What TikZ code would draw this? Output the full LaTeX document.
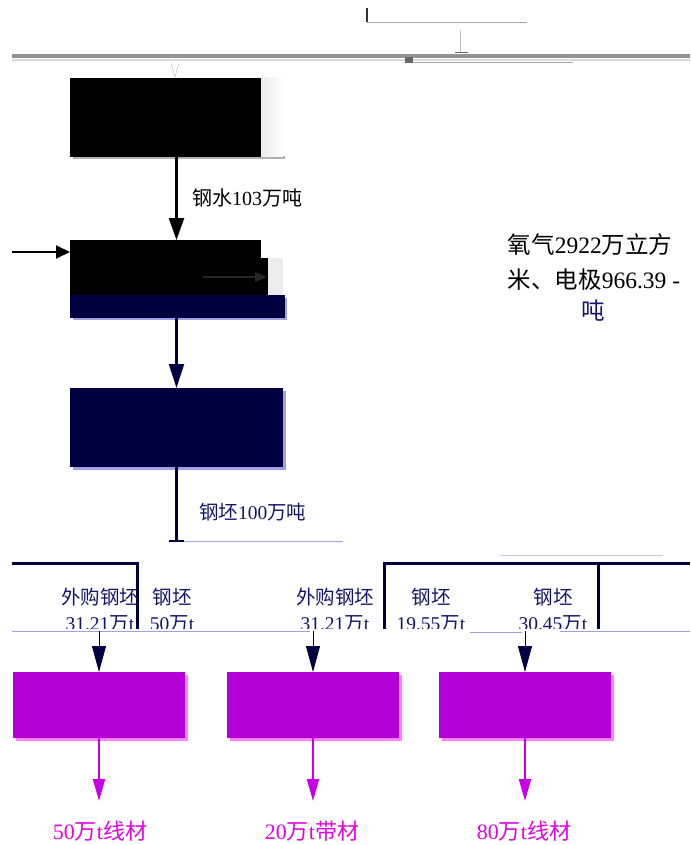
\documentclass[tikz,border=0pt]{standalone}
\usepackage{fontspec}
\setmainfont{Liberation Serif}
\newfontfamily\cjk{Noto Sans CJK SC}
\newcommand\zh[1]{{\cjk #1}}
\usetikzlibrary{arrows.meta}
\definecolor{navy}{RGB}{0,0,64}
\definecolor{lav}{RGB}{160,160,230}
\definecolor{purp}{RGB}{180,0,216}
\definecolor{pinksh}{RGB}{255,128,255}
\definecolor{purparr}{RGB}{200,0,230}
\definecolor{pinktxt}{RGB}{230,0,230}
\definecolor{navytxt}{RGB}{20,20,110}
\tikzset{
  boxk/.style={draw=none,fill=black,inner sep=0pt,outer sep=0pt,anchor=north west},
  boxn/.style={draw=none,fill=navy,inner sep=0pt,outer sep=0pt,anchor=north west},
  boxp/.style={draw=none,fill=purp,inner sep=0pt,outer sep=0pt,anchor=north west,minimum width=172pt,minimum height=66pt},
  lbl/.style={inner sep=0pt,font=\fontsize{20}{22}\selectfont},
  mlbl/.style={inner sep=0pt,font=\fontsize{19.5}{21}\selectfont,text=navytxt},
  rlbl/.style={inner sep=0pt,font=\fontsize{23.5}{26}\selectfont},
  blbl/.style={inner sep=0pt,font=\fontsize{22}{24}\selectfont,text=pinktxt},
  karr/.style={black,line width=2.5pt,-{Triangle[width=15pt,length=22pt]}},
  narr/.style={navy,line width=2.2pt,-{Triangle[width=15pt,length=24pt]}},
  sarr/.style={navy,line width=0.8pt,-{Triangle[width=14pt,length=26pt]}},
  parr/.style={purparr,line width=2pt,-{Triangle[width=12pt,length=22pt]}},
  nline/.style={navy,line width=3pt},
}
\begin{document}
\begin{tikzpicture}[x=1pt,y=-1pt]
\useasboundingbox (0,0) rectangle (690,845);
\clip (0,0) rectangle (690,845);
% top decorations
\draw[gray!40!black,line width=2pt] (367,8) -- (367,22);
\draw[gray!70,line width=0.6pt] (367,22) -- (527,22);
\draw[gray!50,line width=0.6pt] (460,30) -- (460,52);
\draw[gray!85,line width=3.5pt] (12,56) -- (690,56);
\draw[gray!30,line width=1.2pt] (12,60) -- (690,60);
\draw[gray!80!black,line width=1pt] (455,53) -- (468,53);
\draw[gray!70,line width=0.6pt] (413,62) -- (573,62);
\fill[gray!80!black] (405,57) rectangle (413,63);
\draw[gray!50,line width=0.5pt] (171,63) -- (175,77) -- (179,63);
% box 1
\fill[gray!60] (73,156) rectangle (285,159);
\node[boxk,minimum width=213pt,minimum height=79pt] (b1) at (70,78) {};
\shade[left color=gray!15,right color=white] (261,78) rectangle (283,157);
% box 2
\node[boxk,minimum width=213pt,minimum height=55pt] (b2) at (70,240) {};
\fill[white] (261,240) rectangle (283,258);
\fill[gray!15] (268,258) rectangle (283,295);
\fill[lav] (73,298) rectangle (287,320);
\node[boxn,minimum width=213pt,minimum height=23pt] (b2b) at (70,295) {};
\fill[navy] (283,295) rectangle (285,318);
\coordinate (gin) at (203,277);
\coordinate (gout) at (267,277);
\draw[gray!30!black,line width=1.5pt,-{Triangle[width=10pt,length=12pt]}] (gin) -- (gout);
\draw[karr] (b1.south) -- (b2.north);
\node[lbl,anchor=west] (l1) at (192,198) {\zh{钢水}103\zh{万吨}};
\coordinate (lin) at (12,252);
\draw[black,line width=2pt,-{Triangle[width=13pt,length=14pt]}] (lin) -- (lin -| b2.west);
% box 3
\fill[lav] (73,391) rectangle (286,470);
\node[boxn,minimum width=213pt,minimum height=79pt] (b3) at (70,388) {};
\draw[narr] (b2b.south) -- (b3.north);
\coordinate (t1) at (b3.south |- 0,541);
\draw[navy,line width=2.2pt] (b3.south) -- (t1);
\draw[navy,line width=1.5pt] (169,541) -- (184,541);
\draw[lav,line width=0.8pt] (184,541) -- (343,541);
\node[mlbl,anchor=west] (l2) at (199,512) {\zh{钢坯}100\zh{万吨}};
% right text
\node[rlbl] (r1) at (590,245) {\zh{氧气}2922\zh{万立方}};
\node[rlbl] (r2) at (594,280) {\zh{米、电极}966.39 -};
\node[rlbl,text=navytxt] (r3) at (593,311) {\zh{吨}};
% middle frame lines
\draw[lav!60,line width=0.8pt] (500,555) -- (663,555);
\draw[nline] (12,563) -- (137,563) -- (137,630);
\draw[nline] (384,630) -- (384,563) -- (690,563);
\draw[nline] (598,563) -- (598,630);
% middle labels
\node[mlbl] (m1) at (100,597) {\zh{外购钢坯}};
\node[mlbl,anchor=base] (m1b) at (100,630) {31.21\zh{万}t};
\node[mlbl] (m2) at (172,597) {\zh{钢坯}};
\node[mlbl,anchor=base] (m2b) at (172,630) {50\zh{万}t};
\node[mlbl] (m3) at (335,597) {\zh{外购钢坯}};
\node[mlbl,anchor=base] (m3b) at (335,630) {31.21\zh{万}t};
\node[mlbl] (m4) at (431,597) {\zh{钢坯}};
\node[mlbl,anchor=base] (m4b) at (431,630) {19.55\zh{万}t};
\node[mlbl] (m5) at (553,597) {\zh{钢坯}};
\node[mlbl,anchor=base] (m5b) at (553,630) {30.45\zh{万}t};
\fill[white] (0,629) rectangle (690,640);
\draw[lav,line width=0.8pt] (12,631) -- (310,631);
\draw[lav,line width=0.8pt] (470,632) -- (522,632);
\draw[lav,line width=0.8pt] (560,631) -- (690,631);
% purple boxes
\fill[pinksh] (16,675) rectangle (188,741);
\fill[pinksh] (230,675) rectangle (402,741);
\fill[pinksh] (442,675) rectangle (614,741);
\node[boxp] (p1) at (13,672) {};
\node[boxp] (p2) at (227,672) {};
\node[boxp] (p3) at (439,672) {};
\coordinate (a1) at (p1.north |- 0,631);
\coordinate (a2) at (p2.north |- 0,631);
\coordinate (a3) at (p3.north |- 0,631);
\draw[sarr] (a1) -- (p1.north);
\draw[sarr] (a2) -- (p2.north);
\draw[sarr] (a3) -- (p3.north);
\coordinate (o1) at (p1.south |- 0,801);
\coordinate (o2) at (p2.south |- 0,801);
\coordinate (o3) at (p3.south |- 0,801);
\draw[parr] (p1.south) -- (o1);
\draw[parr] (p2.south) -- (o2);
\draw[parr] (p3.south) -- (o3);
% bottom labels
\node[blbl] (q1) at (100,831) {50\zh{万}t\zh{线材}};
\node[blbl] (q2) at (312,831) {20\zh{万}t\zh{带材}};
\node[blbl] (q3) at (524,831) {80\zh{万}t\zh{线材}};
\end{tikzpicture}
\end{document}
